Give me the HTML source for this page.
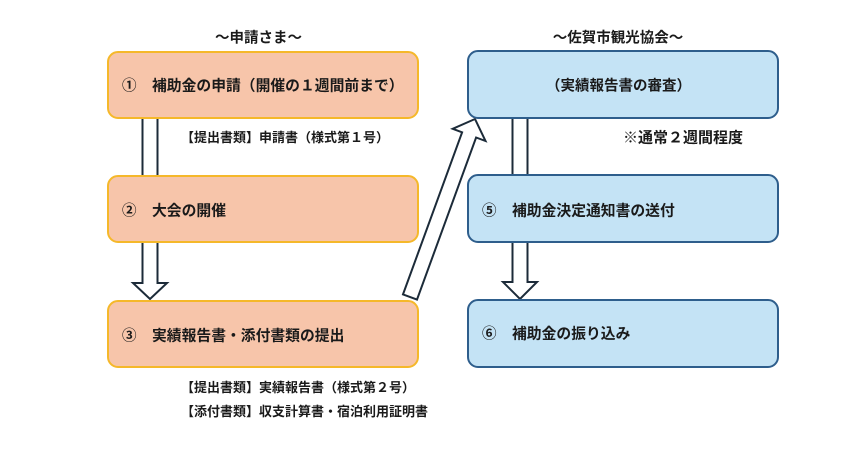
<!DOCTYPE html>
<html><head><meta charset="utf-8">
<style>
html,body{margin:0;padding:0;background:#fff;}
svg{display:block;}
text{font-family:"Liberation Sans","Noto Sans CJK JP",sans-serif;fill:#1a1a1a;font-weight:bold;}
</style></head>
<body>
<svg width="862" height="451" viewBox="0 0 862 451" xmlns="http://www.w3.org/2000/svg">
<rect width="862" height="451" fill="#fff"/>
<!-- arrows (behind boxes) -->
<polygon points="142.5,117 142.5,283 133,283 150,299 167,283 157.5,283 157.5,117" fill="#fff" stroke="#1c2b39" stroke-width="2" stroke-linejoin="miter"/>
<polygon points="512.5,117 512.5,282 503,282 520,299 537,282 527.5,282 527.5,117" fill="#fff" stroke="#1c2b39" stroke-width="2" stroke-linejoin="miter"/>
<polygon points="403,294.4 462.1,132.3 452.7,128.8 475,119 485.5,141 476.1,137.5 417,299.6" fill="#fff" stroke="#1c2b39" stroke-width="2" stroke-linejoin="miter"/>
<!-- left boxes -->
<rect x="108" y="52" width="310" height="66" rx="10" fill="#f7c5aa" stroke="#f5b82a" stroke-width="2"/>
<rect x="108" y="176" width="310" height="66" rx="10" fill="#f7c5aa" stroke="#f5b82a" stroke-width="2"/>
<rect x="108" y="301" width="310" height="66" rx="10" fill="#f7c5aa" stroke="#f5b82a" stroke-width="2"/>
<!-- right boxes -->
<rect x="468" y="51" width="310" height="67" rx="10" fill="#c4e3f5" stroke="#2e5e8c" stroke-width="2"/>
<rect x="468" y="175" width="310" height="67" rx="10" fill="#c4e3f5" stroke="#2e5e8c" stroke-width="2"/>
<rect x="468" y="300" width="310" height="67" rx="10" fill="#c4e3f5" stroke="#2e5e8c" stroke-width="2"/>
<!-- titles -->
<text x="258.5" y="42.5" font-size="14.5" text-anchor="middle">～申請さま～</text>
<text x="618" y="42.5" font-size="14.5" text-anchor="middle">～佐賀市観光協会～</text>
<!-- left texts -->
<text x="122" y="90.5" font-size="14.5">①</text>
<text x="152" y="90.5" font-size="14.8">補助金の申請（開催の１週間前まで）</text>
<text x="122" y="215.5" font-size="14.5">②</text>
<text x="152" y="215.5" font-size="14.8">大会の開催</text>
<text x="122" y="340.5" font-size="14.5">③</text>
<text x="152" y="340.5" font-size="14.8">実績報告書・添付書類の提出</text>
<text x="181" y="142" font-size="13">【提出書類】申請書（様式第１号）</text>
<text x="181" y="392" font-size="13">【提出書類】実績報告書（様式第２号）</text>
<text x="181" y="416" font-size="13">【添付書類】収支計算書・宿泊利用証明書</text>
<!-- right texts -->
<text x="618.5" y="90.5" font-size="14.5" text-anchor="middle">（実績報告書の審査）</text>
<text x="623" y="142.5" font-size="15">※通常２週間程度</text>
<text x="482" y="215.5" font-size="14.5">⑤</text>
<text x="512" y="215.5" font-size="14.8">補助金決定通知書の送付</text>
<text x="482" y="338.5" font-size="14.5">⑥</text>
<text x="512" y="338.5" font-size="14.8">補助金の振り込み</text>
</svg>
</body></html>
